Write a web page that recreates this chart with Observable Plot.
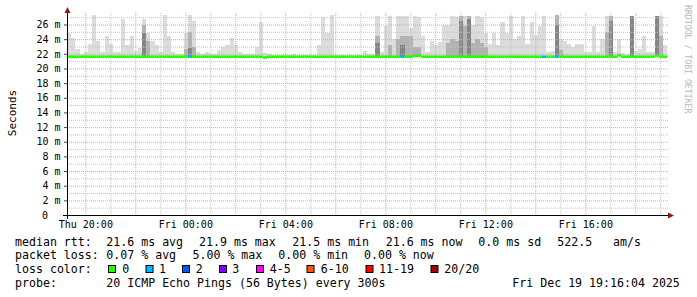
<!DOCTYPE html>
<html><head><meta charset="utf-8">
<script src="https://cdn.jsdelivr.net/npm/d3@7"></script>
<script src="https://cdn.jsdelivr.net/npm/@observablehq/plot@0.6"></script>
<style>
html,body{margin:0;padding:0;background:#fff;}
#chart{position:relative;width:697px;height:297px;overflow:hidden;background:#fff;}
#chart svg{display:block;}
#legend{position:absolute;left:0;top:232px;}
</style></head>
<body><div id="chart"></div>
<script>
const _ = null;
const startTime = "2025-12-18T19:16:04Z";
const endTime = "2025-12-19T19:16:04Z";
const binMinutes = 10;

// highest ping per 10-minute bin (ms)
const smokeMax = [
  24.8, 24.2, 22.6, 22.0, 22.2, 23.4, 27.5, 23.8, 22.2, 24.5, 23.3, 22.2,
  22.3, 26.8, 23.2, 24.4, 22.4, 22.8, 26.7, 24.9, 23.8, 23.2, 22.2, 27.4,
  24.5, 22.3, 22.0, 22.0, 24.9, 27.4, 26.5, 22.2, 22.0, 22.3, 22.0, 22.0,
  22.5, 22.9, 23.2, 24.2, 23.2, 22.2, 22.0, 22.0, 22.0, 23.0, 26.4, 22.1,
  22.0, 21.9, 21.9, 21.9, 21.9, 21.9, 22.0, 21.9, 21.9, 21.9, 21.9, 21.9,
  23.2, 27.0, 24.8, 27.4, 21.9, 21.9, 21.9, 21.9, 21.9, 21.9, 21.9, 22.4,
  22.0, 22.0, 27.2, 22.3, 25.8, 27.2, 24.0, 27.2, 27.2, 27.2, 25.5, 27.2,
  27.0, 24.5, 22.3, 23.8, 23.2, 23.6, 26.0, 26.0, 27.2, 27.0, 27.2, 27.2,
  27.2, 26.0, 27.2, 27.0, 24.9, 23.4, 24.9, 23.2, 26.3, 24.9, 27.2, 24.0,
  24.5, 27.2, 23.4, 26.3, 24.6, 25.8, 27.2, 22.2, 22.4, 27.3, 24.0, 23.8,
  23.4, 23.0, 23.4, 23.4, 22.2, 22.2, 25.8, 22.3, 24.0, 27.2, 27.2, 22.2,
  24.0, 22.1, 22.0, 27.2, 22.4, 22.6, 24.5, 22.2, 22.2, 27.2, 27.2, 23.2
];
// denser part of the smoke (ms)
const smokeMid = [
  _, _, _, _, _, _, _, _, _, _, _, _,
  _, _, _, _, _, _, 25.9, 23.8, _, _, _, _,
  _, _, _, _, 22.6, 25.0, 23.0, _, _, _, _, _,
  _, _, _, _, _, _, _, _, _, _, _, _,
  _, _, _, _, _, _, _, _, _, _, _, _,
  _, _, _, _, _, _, _, _, _, _, _, _,
  _, _, 24.5, _, _, 23.2, _, 24.0, 24.5, 24.5, 24.5, 23.0,
  23.0, _, _, _, _, _, _, 23.5, 24.0, 23.8, 27.2, 25.8,
  27.2, 23.5, 24.0, 23.5, 23.0, _, _, _, _, _, _, _,
  _, _, _, _, _, _, _, _, _, 27.3, 22.5, _,
  _, _, _, _, _, _, _, _, _, 25.0, 27.2, _,
  _, _, _, 27.2, _, _, _, _, _, 27.2, 24.5, _
];
// darkest part of the smoke (ms)
const smokeDark = [
  _, _, _, _, _, _, _, _, _, _, _, _,
  _, _, _, _, _, _, 24.9, _, _, _, _, _,
  _, _, _, _, _, 22.8, _, _, _, _, _, _,
  _, _, _, _, _, _, _, _, _, _, _, _,
  _, _, _, _, _, _, _, _, _, _, _, _,
  _, _, _, _, _, _, _, _, _, _, _, _,
  _, _, 23.5, _, _, _, _, _, 23.2, _, _, _,
  _, _, _, _, _, _, _, _, _, _, 26.5, _,
  26.8, _, _, _, _, _, _, _, _, _, _, _,
  _, _, _, _, _, _, _, _, _, 26.0, _, _,
  _, _, _, _, _, _, _, _, _, _, 26.5, _,
  _, _, _, 27.2, _, _, _, _, _, 27.2, _, _
];
// median rtt per bin (ms)
const medianRtt = [
  21.6, 21.6, 21.6, 21.6, 21.6, 21.6, 21.6, 21.6, 21.6, 21.6, 21.6, 21.6,
  21.6, 21.6, 21.6, 21.6, 21.6, 21.6, 21.6, 21.6, 21.6, 21.6, 21.6, 21.6,
  21.6, 21.6, 21.6, 21.6, 21.6, 21.6, 21.6, 21.6, 21.6, 21.6, 21.6, 21.6,
  21.6, 21.6, 21.6, 21.6, 21.6, 21.6, 21.6, 21.6, 21.6, 21.6, 21.6, 21.5,
  21.6, 21.6, 21.6, 21.6, 21.6, 21.6, 21.6, 21.6, 21.6, 21.6, 21.6, 21.6,
  21.6, 21.6, 21.6, 21.6, 21.6, 21.6, 21.6, 21.6, 21.6, 21.6, 21.6, 21.6,
  21.6, 21.6, 21.6, 21.6, 21.6, 21.6, 21.6, 21.6, 21.6, 21.6, 21.6, 21.75,
  21.75, 21.6, 21.6, 21.6, 21.6, 21.6, 21.6, 21.6, 21.6, 21.6, 21.6, 21.6,
  21.6, 21.6, 21.6, 21.6, 21.6, 21.6, 21.6, 21.6, 21.6, 21.6, 21.6, 21.6,
  21.6, 21.6, 21.6, 21.6, 21.6, 21.6, 21.6, 21.6, 21.6, 21.6, 21.6, 21.6,
  21.6, 21.6, 21.6, 21.6, 21.6, 21.6, 21.6, 21.6, 21.6, 21.6, 21.6, 21.6,
  21.8, 21.6, 21.6, 21.6, 21.6, 21.6, 21.6, 21.6, 21.6, 21.75, 21.6, 21.6
];
// lost pings (of 20) per bin
const lossCount = [
  0,0,0,0,0,0,0,0,0,0,0,0,
  0,0,0,0,0,0,0,0,0,0,0,0,
  0,0,0,0,0,1,0,0,0,0,0,0,
  0,0,0,0,0,0,0,0,0,0,0,0,
  0,0,0,0,0,0,0,0,0,0,0,0,
  0,0,0,0,0,0,0,0,0,0,0,0,
  0,0,0,0,0,0,0,0,1,0,0,0,
  0,0,0,0,0,0,0,0,0,0,0,0,
  0,0,0,0,0,0,0,0,0,0,0,0,
  0,0,0,0,0,0,1,0,0,1,0,0,
  0,0,0,0,0,0,0,0,0,0,0,0,
  0,0,0,0,0,0,0,0,0,0,0,0
];

const yTicks = [0, 2, 4, 6, 8, 10, 12, 14, 16, 18, 20, 22, 24, 26];
const yMinor = [1, 3, 5, 7, 9, 11, 13, 15, 17, 19, 21, 23, 25, 27];
const xTickTimes = ["2025-12-18T20:00:00Z", "2025-12-19T00:00:00Z", "2025-12-19T04:00:00Z",
                    "2025-12-19T08:00:00Z", "2025-12-19T12:00:00Z", "2025-12-19T16:00:00Z"];

const lossLabels = ["0", "1", "2", "3", "4-5", "6-10", "11-19", "20/20"];
const lossUpper = [0, 1, 2, 3, 5, 10, 19, 20];
const lossColors = ["#26ff00", "#00b8ff", "#0059ff", "#7e00ff", "#ff00ff", "#ff5500", "#ff0000", "#a10000"];

const rttStats = ["21.6 ms avg", "21.9 ms max", "21.5 ms min", "21.6 ms now", "0.0 ms sd", "522.5", "am/s"];
const lossStats = ["0.07 % avg", "5.00 % max", "0.00 % min", "0.00 % now"];
const probeText = "20 ICMP Echo Pings (56 Bytes) every 300s";
const stampText = "Fri Dec 19 19:16:04 2025";
const sideText = "RRDTOOL / TOBI OETIKER";
const yLabel = "Seconds";

const t0 = new Date(startTime), t1 = new Date(endTime);
const step = binMinutes * 60000;
const rows = smokeMax.map((v, i) => ({
  x1: new Date(+t0 + i * step), x2: new Date(+t0 + (i + 1) * step),
  max: v, mid: smokeMid[i], dark: smokeDark[i], med: medianRtt[i], loss: lossCount[i]
}));
const lossColor = l => lossColors[lossUpper.findIndex(u => l <= u)];
const hours = d3.utcHour.range(t0, t1);
const hMajor = hours.filter(d => d.getUTCHours() % 2 === 0);
const hMinor = hours.filter(d => d.getUTCHours() % 2 === 1);
const mono = "'DejaVu Sans Mono', monospace";

const plot = Plot.plot({
  width: 697, height: 232,
  marginLeft: 67, marginRight: 30, marginTop: 15, marginBottom: 17,
  style: {fontFamily: mono, fontSize: "10px", background: "#fff", color: "#000"},
  x: {type: "utc", domain: [t0, t1]},
  y: {domain: [0, 27.3]},
  marks: [
    Plot.rect(rows, {x1: "x1", x2: "x2", y1: "med", y2: "max", fill: "#dcdcdc", clip: true, shapeRendering: "crispEdges"}),
    Plot.rect(rows.filter(d => d.mid != null), {x1: "x1", x2: "x2", y1: "med", y2: "mid", fill: "#b2b2b2", clip: true, shapeRendering: "crispEdges"}),
    Plot.rect(rows.filter(d => d.dark != null), {x1: "x1", x2: "x2", y1: "med", y2: "dark", fill: "#858585", clip: true, shapeRendering: "crispEdges"}),
    Plot.gridY(yMinor, {stroke: "#c4c4c4", strokeOpacity: 1, strokeDasharray: "1,1", insetRight: -1}),
    Plot.gridY(yTicks.filter(d => d > 0), {stroke: "#e8a0a0", strokeOpacity: 1, strokeDasharray: "1,1", insetRight: -1}),
    Plot.gridX(hMinor, {stroke: "#c4c4c4", strokeOpacity: 1, strokeDasharray: "1,1", insetTop: -2}),
    Plot.gridX(hMajor, {stroke: "#e8a0a0", strokeOpacity: 1, strokeDasharray: "1,1", insetTop: -2}),
    Plot.rect(rows, {x1: "x1", x2: "x2", y1: d => d.med - 0.18, y2: d => d.med + 0.18, fill: d => lossColor(d.loss)}),
    Plot.ruleY([0], {stroke: "#000", insetLeft: -4, insetRight: -1}),
    Plot.ruleX([t0], {stroke: "#000", insetTop: -4, insetBottom: -4}),
    Plot.axisY(yTicks.filter(d => d > 0), {tickFormat: d => `${d} m`, tickSize: 3, tickPadding: 4, label: null, stroke: "#444"}),
    Plot.axisY([0], {tickFormat: () => "0", tickSize: 0, tickPadding: 19.5, label: null}),
    Plot.axisX(xTickTimes.map(s => new Date(s)), {tickFormat: d3.utcFormat("%a %H:%M"), tickSize: 0, tickPadding: 5, label: null})
  ]
});
document.getElementById("chart").appendChild(plot);

// decorations: arrows, axis title, side credit
const svg = d3.select(plot);
const xs = plot.scale("x"), ys = plot.scale("y");
const ax = Math.round(xs.apply(t0)) + 0.5;
const ay0 = Math.round(ys.apply(0)) + 0.5;
const xEnd = xs.apply(t1);
svg.append("path").attr("d", `M${ax - 3},13 L${ax + 3},13 L${ax},7 Z`).attr("fill", "#8b1a1a");
svg.append("path").attr("d", `M${xEnd + 1},${ay0 - 3} L${xEnd + 1},${ay0 + 3} L${xEnd + 7},${ay0} Z`).attr("fill", "#8b1a1a");
svg.append("text").text(yLabel).attr("transform", "translate(15.5,113) rotate(-90)")
  .attr("text-anchor", "middle").attr("font-family", mono).attr("font-size", "11px").attr("fill", "#000");
svg.append("text").text(sideText).attr("transform", "translate(684.5,5) rotate(90)")
  .attr("text-anchor", "start").attr("font-family", mono).attr("font-size", "8.2px").attr("fill", "#b8b8b8");

// legend below the plot
const leg = d3.select("#chart").append("svg").attr("id", "legend")
  .attr("width", 697).attr("height", 65)
  .attr("font-family", mono).attr("font-size", "11.6px").attr("fill", "#000")
  .style("white-space", "pre");
const txt = (s, x, y) => leg.append("text").attr("x", x).attr("y", y).text(s);
const L1 = 13.7, L2 = 27.3, L3 = 40.8, L4 = 54.5;
txt("median rtt:", 15, L1);
[106.3, 199, 292.3, 385.7, 478.3, 557.3, 613].forEach((x, i) => txt(rttStats[i], x, L1));
txt("packet loss:", 15, L2);
[106.3, 192.5, 278.3, 364].forEach((x, i) => txt(lossStats[i], x, L2));
txt("loss color:", 15, L3);
const boxX = [108.5, 146, 182.5, 219.5, 256.5, 307, 366, 431];
const labX = [122.3, 159, 195.7, 232.3, 269.7, 320.7, 379, 444.3];
lossLabels.forEach((s, i) => {
  leg.append("rect").attr("x", boxX[i]).attr("y", 33.5).attr("width", 7).attr("height", 7)
    .attr("fill", lossColors[i]).attr("stroke", "#000").attr("stroke-width", 1);
  txt(s, labX[i], L3);
});
txt("probe:", 15, L4);
txt(probeText, 106.3, L4);
txt(stampText, 512.3, L4);
</script></body></html>
